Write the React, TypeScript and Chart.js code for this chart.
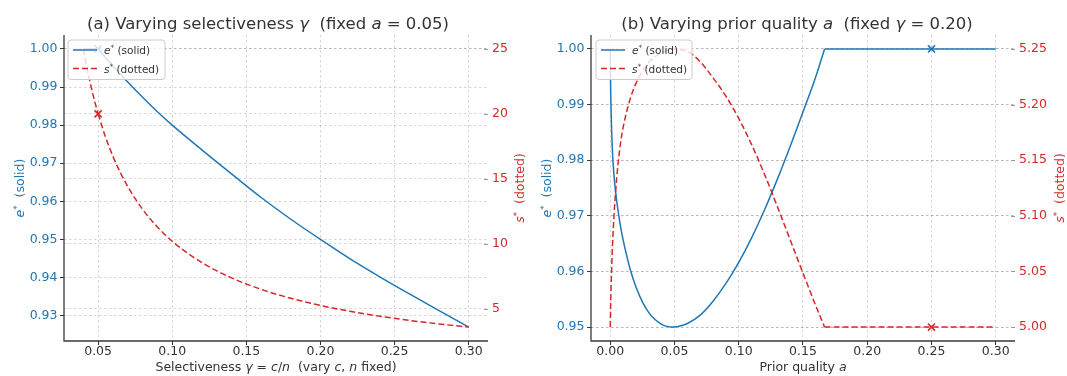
import React, { useEffect, useRef } from 'react';
import { Chart, registerables } from 'chart.js';
Chart.register(...registerables);

// ---------- Panel (a): varying selectiveness gamma, a = 0.05 ----------
const gammaA = [0.04, 0.0425, 0.045, 0.0475, 0.05, 0.055, 0.06, 0.065, 0.07, 0.08, 0.09, 0.10, 0.12, 0.14, 0.16, 0.18, 0.20, 0.22, 0.24, 0.26, 0.28, 0.30];
const eA = [1.0, 1.0, 1.0, 1.0, 1.0, 0.9977, 0.9955, 0.9934, 0.9913, 0.9873, 0.9835, 0.980, 0.9735, 0.9672, 0.961, 0.9553, 0.950, 0.9449, 0.9402, 0.9357, 0.9313, 0.927];
const sA = [25.0, 23.53, 22.22, 21.05, 20.0, 18.22, 16.74, 15.49, 14.41, 12.66, 11.30, 10.20, 8.56, 7.385, 6.50, 5.815, 5.263, 4.81, 4.432, 4.11, 3.835, 3.596];
const kinkA = 0.05; // e* leaves its cap of 1 here
const markGammaA = [0.05];
const markEA = [1.0];
const markSA = [20.0];
const xTicksA = [0.05, 0.10, 0.15, 0.20, 0.25, 0.30];
const eTicksA = [0.93, 0.94, 0.95, 0.96, 0.97, 0.98, 0.99, 1.00];
const sTicksA = [5, 10, 15, 20, 25];

// ---------- Panel (b): varying prior quality a, gamma = 0.20 ----------
const aB = [0, 0.00025, 0.0005, 0.001, 0.0015, 0.002, 0.003, 0.0041, 0.006, 0.0086, 0.012, 0.0155, 0.02, 0.0255, 0.03, 0.0346, 0.04, 0.045, 0.047, 0.05, 0.055, 0.06, 0.07, 0.08, 0.09, 0.10, 0.11, 0.12, 0.13, 0.14, 0.15, 0.16, 0.1668, 0.20, 0.25, 0.30];
const eB = [1.0, 0.9935, 0.9902, 0.9857, 0.9826, 0.9802, 0.9770, 0.9744, 0.9710, 0.9673, 0.9636, 0.9604, 0.9572, 0.9543, 0.9526, 0.9514, 0.9505, 0.95008, 0.9500, 0.95003, 0.95024, 0.95065, 0.95215, 0.95465, 0.95785, 0.96165, 0.96605, 0.97105, 0.97655, 0.98245, 0.98865, 0.99505, 1.0, 1.0, 1.0, 1.0];
const sB = [5.0, 5.018, 5.031, 5.050, 5.066, 5.080, 5.102, 5.121, 5.146, 5.170, 5.190, 5.205, 5.219, 5.231, 5.238, 5.2428, 5.2466, 5.2490, 5.2496, 5.2500, 5.2494, 5.2480, 5.2385, 5.224, 5.2075, 5.1875, 5.164, 5.1375, 5.1085, 5.0785, 5.0485, 5.019, 5.0, 5.0, 5.0, 5.0];
const kinkB = 0.1668; // e* reaches its cap of 1 here
const markAB = [0.25];
const markEB = [1.0];
const markSB = [5.0];
const xTicksB = [0.0, 0.05, 0.10, 0.15, 0.20, 0.25, 0.30];
const eTicksB = [0.95, 0.96, 0.97, 0.98, 0.99, 1.00];
const sTicksB = [5.0, 5.05, 5.10, 5.15, 5.20, 5.25];

const BLUE = '#1f77b4';
const RED = '#d62728';
const TXT = '#333333';
const GRID = 'rgba(0,0,0,0.2)';
const FONT = '"DejaVu Sans", sans-serif';

type Seg = { t: string; it?: boolean; sup?: boolean };

function segFont(s: Seg, size: number) {
  const sz = s.sup ? size * 0.7 : size;
  return `${s.it ? 'italic ' : ''}${sz}px ${FONT}`;
}
function richWidth(ctx: CanvasRenderingContext2D, segs: Seg[], size: number) {
  let w = 0;
  for (const s of segs) { ctx.font = segFont(s, size); w += ctx.measureText(s.t).width; }
  return w;
}
function drawRich(ctx: CanvasRenderingContext2D, segs: Seg[], x: number, y: number, size: number, color: string, align: 'left' | 'center') {
  ctx.save();
  ctx.fillStyle = color;
  ctx.textBaseline = 'alphabetic';
  ctx.textAlign = 'left';
  let cx = align === 'center' ? x - richWidth(ctx, segs, size) / 2 : x;
  for (const s of segs) {
    ctx.font = segFont(s, size);
    ctx.fillText(s.t, cx, s.sup ? y - size * 0.38 : y);
    cx += ctx.measureText(s.t).width;
  }
  ctx.restore();
}
function drawRichV(ctx: CanvasRenderingContext2D, segs: Seg[], x: number, y: number, size: number, color: string) {
  ctx.save();
  ctx.translate(x, y);
  ctx.rotate(-Math.PI / 2);
  drawRich(ctx, segs, 0, size * 0.35, size, color, 'center');
  ctx.restore();
}

interface PanelCfg {
  left: number; width: number; leftW: number; rightW: number;
  xs: number[]; es: number[]; ss: number[]; kink: number;
  mx: number[]; me: number[]; ms: number[];
  xTicks: number[]; eTicks: number[]; sTicks: number[];
  xMin: number; xMax: number; eMin: number; eMax: number; sMin: number; sMax: number;
  sDec: number;
  title: Seg[]; titleX: number; xlabel: Seg[];
  ylL: number; ylR: number; legDX: number; legW: number;
}

const yLabE: Seg[] = [{ t: 'e', it: true }, { t: '*', sup: true }, { t: '  (solid)' }];
const yLabS: Seg[] = [{ t: 's', it: true }, { t: '*', sup: true }, { t: '  (dotted)' }];
const legE: Seg[] = [{ t: 'e', it: true }, { t: '*', sup: true }, { t: ' (solid)' }];
const legS: Seg[] = [{ t: 's', it: true }, { t: '*', sup: true }, { t: ' (dotted)' }];

const panelA: PanelCfg = {
  left: 0, width: 533, leftW: 64, rightW: 45,
  xs: gammaA, es: eA, ss: sA, kink: kinkA, mx: markGammaA, me: markEA, ms: markSA,
  xTicks: xTicksA, eTicks: eTicksA, sTicks: sTicksA,
  xMin: 0.027, xMax: 0.313, eMin: 0.92335, eMax: 1.00365, sMin: 2.526, sMax: 26.07,
  sDec: 0,
  title: [{ t: '(a) Varying selectiveness ' }, { t: 'γ', it: true }, { t: '  (fixed ' }, { t: 'a', it: true }, { t: ' = 0.05)' }],
  titleX: 268,
  xlabel: [{ t: 'Selectiveness ' }, { t: 'γ', it: true }, { t: ' = ' }, { t: 'c', it: true }, { t: '/' }, { t: 'n', it: true }, { t: '  (vary ' }, { t: 'c', it: true }, { t: ', ' }, { t: 'n', it: true }, { t: ' fixed)' }],
  ylL: 20, ylR: 520, legDX: 4, legW: 97,
};

const panelB: PanelCfg = {
  left: 533, width: 534, leftW: 58, rightW: 52,
  xs: aB, es: eB, ss: sB, kink: kinkB, mx: markAB, me: markEB, ms: markSB,
  xTicks: xTicksB, eTicks: eTicksB, sTicks: sTicksB,
  xMin: -0.015, xMax: 0.315, eMin: 0.9475, eMax: 1.0025, sMin: 4.9875, sMax: 5.2625,
  sDec: 2,
  title: [{ t: '(b) Varying prior quality ' }, { t: 'a', it: true }, { t: '  (fixed ' }, { t: 'γ', it: true }, { t: ' = 0.20)' }],
  titleX: 264,
  xlabel: [{ t: 'Prior quality ' }, { t: 'a', it: true }],
  ylL: 14, ylR: 527, legDX: 5, legW: 96,
};

function buildConfig(cfg: PanelCfg): any {
  const tickFont = { family: FONT, size: 12.5, lineHeight: 1 };
  const decor = {
    id: 'decor',
    afterDraw(chart: any) {
      const ctx: CanvasRenderingContext2D = chart.ctx;
      const ca = chart.chartArea;
      ctx.save();
      ctx.setLineDash([]);
      // spines
      ctx.strokeStyle = '#3a3a3a';
      ctx.lineWidth = 1.3;
      ctx.beginPath();
      ctx.moveTo(ca.left, ca.top);
      ctx.lineTo(ca.left, ca.bottom);
      ctx.lineTo(ca.right, ca.bottom);
      ctx.stroke();
      // right-axis tick marks
      const y2 = chart.scales.y2;
      ctx.strokeStyle = '#999999';
      ctx.lineWidth = 1;
      for (const v of cfg.sTicks) {
        const py = Math.round(y2.getPixelForValue(v)) + 0.5;
        ctx.beginPath();
        ctx.moveTo(ca.right - 4, py);
        ctx.lineTo(ca.right, py);
        ctx.stroke();
      }
      // legend
      const lx = ca.left + cfg.legDX, ly = ca.top + 5, lw = cfg.legW, lh = 39.5, r = 3;
      ctx.beginPath();
      ctx.moveTo(lx + r, ly);
      ctx.arcTo(lx + lw, ly, lx + lw, ly + lh, r);
      ctx.arcTo(lx + lw, ly + lh, lx, ly + lh, r);
      ctx.arcTo(lx, ly + lh, lx, ly, r);
      ctx.arcTo(lx, ly, lx + lw, ly, r);
      ctx.closePath();
      ctx.fillStyle = 'rgba(255,255,255,0.8)';
      ctx.fill();
      ctx.strokeStyle = '#cccccc';
      ctx.lineWidth = 1;
      ctx.stroke();
      ctx.lineWidth = 1.5;
      ctx.strokeStyle = BLUE;
      ctx.beginPath();
      ctx.moveTo(lx + 5, ly + 10);
      ctx.lineTo(lx + 29, ly + 10);
      ctx.stroke();
      ctx.strokeStyle = RED;
      ctx.setLineDash([6, 3]);
      ctx.beginPath();
      ctx.moveTo(lx + 5, ly + 28.5);
      ctx.lineTo(lx + 29, ly + 28.5);
      ctx.stroke();
      ctx.setLineDash([]);
      drawRich(ctx, legE, lx + 36, ly + 14, 10.5, TXT, 'left');
      drawRich(ctx, legS, lx + 36, ly + 32.5, 10.5, TXT, 'left');
      // titles and axis labels
      drawRich(ctx, cfg.title, cfg.titleX, 29, 16.5, TXT, 'center');
      drawRich(ctx, cfg.xlabel, (ca.left + ca.right) / 2, 371, 12.5, TXT, 'center');
      const cy = (ca.top + ca.bottom) / 2;
      drawRichV(ctx, yLabE, cfg.ylL, cy, 12.5, BLUE);
      drawRichV(ctx, yLabS, cfg.ylR, cy, 12.5, RED);
      ctx.restore();
    },
  };

  const pts = (xs: number[], ys: number[]) => xs.map((x, i) => ({ x, y: ys[i] }));
  // split each curve at the kink so the smoothing keeps the corner sharp
  const k = cfg.xs.indexOf(cfg.kink);
  const part = (ys: number[], first: boolean) => {
    const all = pts(cfg.xs, ys);
    return first ? all.slice(0, k + 1) : all.slice(k);
  };
  const sStyle = { yAxisID: 'y2', borderColor: RED, borderWidth: 1.5, borderDash: [6, 3], pointRadius: 0, cubicInterpolationMode: 'monotone', fill: false };
  const eStyle = { yAxisID: 'y', borderColor: BLUE, borderWidth: 1.5, pointRadius: 0, cubicInterpolationMode: 'monotone', fill: false };

  return {
    type: 'line',
    data: {
      datasets: [
        {
          label: 's mark', data: pts(cfg.mx, cfg.ms), yAxisID: 'y2', showLine: false,
          pointStyle: 'crossRot', pointRadius: 5, pointBorderWidth: 1.6, borderColor: RED, backgroundColor: RED,
        },
        { label: 's', data: part(cfg.ss, true), ...sStyle },
        { label: 's2', data: part(cfg.ss, false), ...sStyle },
        {
          label: 'e mark', data: pts(cfg.mx, cfg.me), yAxisID: 'y', showLine: false,
          pointStyle: 'crossRot', pointRadius: 5, pointBorderWidth: 1.6, borderColor: BLUE, backgroundColor: BLUE,
        },
        { label: 'e', data: part(cfg.es, true), ...eStyle },
        { label: 'e2', data: part(cfg.es, false), ...eStyle },
      ],
    },
    options: {
      responsive: false,
      animation: false,
      devicePixelRatio: 1,
      layout: { padding: { top: 35, left: 0, right: 0, bottom: 0 }, autoPadding: false },
      plugins: { legend: { display: false }, tooltip: { enabled: false }, title: { display: false } },
      scales: {
        x: {
          type: 'linear', min: cfg.xMin, max: cfg.xMax,
          afterBuildTicks: (s: any) => { s.ticks = cfg.xTicks.map((v) => ({ value: v })); },
          afterFit: (s: any) => { s.height = 35; },
          ticks: { color: TXT, font: tickFont, padding: 0, maxRotation: 0, autoSkip: false, callback: (v: any) => Number(v).toFixed(2) },
          grid: { color: GRID, lineWidth: 0.8, tickLength: 4, tickColor: TXT, tickWidth: 1, tickBorderDash: [] },
          border: { display: false, dash: [2.5, 2.5] },
        },
        y: {
          type: 'linear', position: 'left', min: cfg.eMin, max: cfg.eMax,
          afterBuildTicks: (s: any) => { s.ticks = cfg.eTicks.map((v) => ({ value: v })); },
          afterFit: (s: any) => { s.width = cfg.leftW; },
          ticks: { color: BLUE, font: tickFont, padding: 2.5, autoSkip: false, callback: (v: any) => Number(v).toFixed(2) },
          grid: { color: GRID, lineWidth: 0.8, tickLength: 4, tickColor: TXT, tickWidth: 1, tickBorderDash: [] },
          border: { display: false, dash: [2.5, 2.5] },
        },
        y2: {
          type: 'linear', position: 'right', min: cfg.sMin, max: cfg.sMax,
          afterBuildTicks: (s: any) => { s.ticks = cfg.sTicks.map((v) => ({ value: v })); },
          afterFit: (s: any) => { s.width = cfg.rightW; },
          ticks: { color: RED, font: tickFont, padding: 4, autoSkip: false, callback: (v: any) => Number(v).toFixed(cfg.sDec) },
          grid: { color: GRID, lineWidth: 0.8, drawTicks: false, drawOnChartArea: true },
          border: { display: false, dash: [2.5, 2.5] },
        },
      },
    },
    plugins: [decor],
  };
}

function Panel({ cfg }: { cfg: PanelCfg }) {
  const ref = useRef<HTMLCanvasElement>(null);
  useEffect(() => {
    const chart = new Chart(ref.current as HTMLCanvasElement, buildConfig(cfg));
    return () => chart.destroy();
  }, [cfg]);
  return (
    <canvas
      ref={ref}
      width={cfg.width}
      height={376}
      style={{ position: 'absolute', left: cfg.left, top: 0, width: cfg.width, height: 376 }}
    />
  );
}

export default function App() {
  return (
    <div style={{ position: 'absolute', left: 0, top: 0, width: 1067, height: 376, background: '#ffffff' }}>
      <Panel cfg={panelA} />
      <Panel cfg={panelB} />
    </div>
  );
}
